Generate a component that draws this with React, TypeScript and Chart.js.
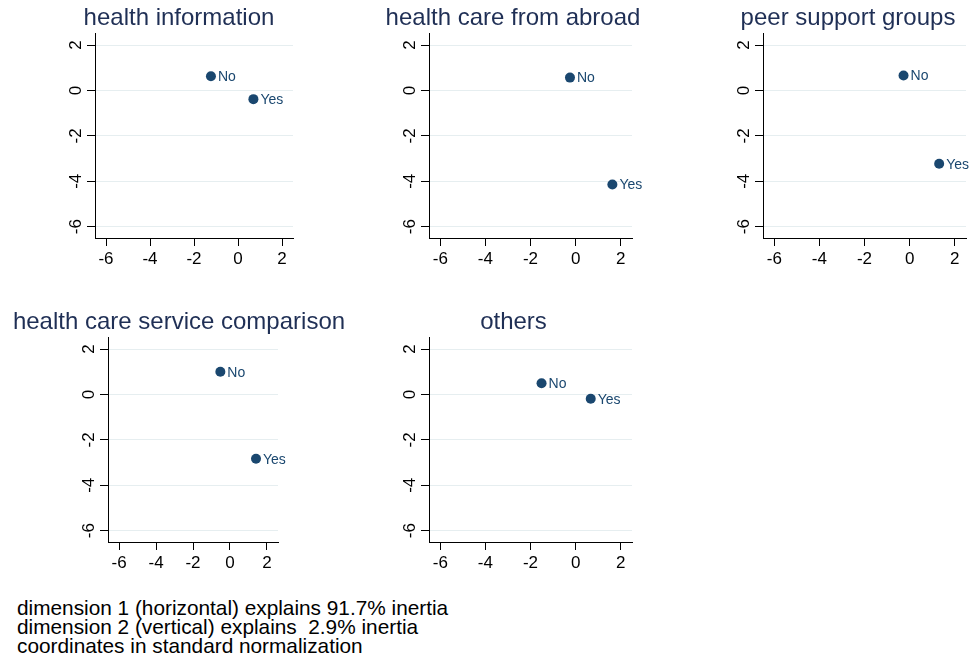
import React, { useEffect, useRef } from "react";
import { Chart, registerables } from "chart.js";

Chart.register(...registerables);

// ---- data ----
const PANEL_TITLES = [
  "health information",
  "health care from abroad",
  "peer support groups",
  "health care service comparison",
  "others",
];
const CATEGORY_LABELS = ["No", "Yes"];
const NO_X = [-1.23, -0.25, -0.27, -0.52, -1.51];
const NO_Y = [0.63, 0.57, 0.66, 1.0, 0.5];
const YES_X = [0.7, 1.63, 1.31, 1.41, 0.67];
const YES_Y = [-0.38, -4.14, -3.23, -2.83, -0.19];
const X_TICKS = [-6, -4, -2, 0, 2];
const Y_TICKS = [-6, -4, -2, 0, 2];
const X_MIN = [-6.5, -6.5, -6.5, -6.6, -6.5];
const X_MAX = [2.5, 2.5, 2.5, 2.6, 2.5];
const Y_MIN = -6.5;
const Y_MAX = 2.5;
const NOTES = [
  "dimension 1 (horizontal) explains 91.7% inertia",
  "dimension 2 (vertical) explains  2.9% inertia",
  "coordinates in standard normalization",
];

// ---- layout / style ----
// canvas spans [left, left+width], centred on the panel title;
// yW = space left of plot area, rW = space right of plot area
const PANEL_BOXES = [
  { left: 60, top: 0, width: 238, height: 270, yW: 35, rW: 1 },
  { left: 376, top: 0, width: 274, height: 270, yW: 53, rW: 18 },
  { left: 725, top: 0, width: 246, height: 270, yW: 38, rW: 5 },
  { left: 0, top: 304, width: 358, height: 270, yW: 108, rW: 80 },
  { left: 380, top: 304, width: 267, height: 270, yW: 49, rW: 15 },
];
const FONT = '"Liberation Sans", Arial, Helvetica, sans-serif';
const MARKER_COLOR = "#1a476f";
const TITLE_COLOR = "#1f2f55";
const GRID_COLOR = "#e6eef0";
const AXIS_COLOR = "#000000";

const pointLabelPlugin = {
  id: "pointLabels",
  afterDatasetsDraw(chart: any) {
    const ctx = chart.ctx;
    const meta = chart.getDatasetMeta(0);
    ctx.save();
    ctx.font = `14px ${FONT}`;
    ctx.fillStyle = MARKER_COLOR;
    ctx.textBaseline = "middle";
    ctx.textAlign = "left";
    meta.data.forEach((el: any, i: number) => {
      ctx.fillText(CATEGORY_LABELS[i], el.x + 7, el.y + 1);
    });
    ctx.restore();
  },
};

function Panel({ idx }: { idx: number }) {
  const ref = useRef<HTMLCanvasElement | null>(null);
  const box = PANEL_BOXES[idx];
  useEffect(() => {
    if (!ref.current) return;
    const chart = new Chart(ref.current, {
      type: "scatter",
      data: {
        datasets: [
          {
            data: [
              { x: NO_X[idx], y: NO_Y[idx] },
              { x: YES_X[idx], y: YES_Y[idx] },
            ],
            backgroundColor: MARKER_COLOR,
            borderColor: MARKER_COLOR,
            borderWidth: 0,
            pointRadius: 5,
            pointHoverRadius: 5,
          },
        ],
      },
      options: {
        animation: false,
        responsive: false,
        devicePixelRatio: 1,
        layout: { padding: 0 },
        plugins: {
          legend: { display: false },
          tooltip: { enabled: false },
          title: {
            display: true,
            text: PANEL_TITLES[idx],
            color: TITLE_COLOR,
            font: { size: 24, family: FONT, weight: "normal" },
            padding: { top: 4, bottom: 1 },
          },
        },
        scales: {
          x: {
            type: "linear",
            min: X_MIN[idx],
            max: X_MAX[idx],
            afterBuildTicks: (s: any) => {
              s.ticks = X_TICKS.map((v) => ({ value: v }));
            },
            afterFit: (s: any) => {
              s.height = 32;
            },
            grid: {
              drawOnChartArea: false,
              drawTicks: true,
              tickLength: 8,
              tickColor: AXIS_COLOR,
              tickWidth: 1,
            },
            border: { display: true, color: AXIS_COLOR, width: 1 },
            ticks: {
              font: { size: 17, family: FONT },
              color: "#000",
              padding: 3,
              minRotation: 0,
              maxRotation: 0,
              autoSkip: false,
              callback: (v: any) => String(v),
            },
          },
          y: {
            type: "linear",
            min: Y_MIN,
            max: Y_MAX,
            afterBuildTicks: (s: any) => {
              s.ticks = Y_TICKS.map((v) => ({ value: v }));
            },
            afterFit: (s: any) => {
              s.width = box.yW;
            },
            grid: {
              color: GRID_COLOR,
              lineWidth: 1,
              drawTicks: true,
              tickLength: 8,
              tickColor: AXIS_COLOR,
              tickWidth: 1,
            },
            border: { display: true, color: AXIS_COLOR, width: 1 },
            ticks: {
              font: { size: 17, family: FONT },
              color: "#000",
              padding: 3,
              minRotation: 90,
              maxRotation: 90,
              crossAlign: "center",
              autoSkip: false,
              callback: (v: any) => String(v),
            },
          },
          // empty spacer on the right so labels beyond the plot area are not cut
          spacer: {
            type: "linear",
            position: "right",
            display: true,
            grid: { display: false, drawTicks: false },
            border: { display: false },
            ticks: { display: false },
            afterFit: (s: any) => {
              s.width = box.rW;
            },
          },
        },
      },
      plugins: [pointLabelPlugin],
    } as any);
    return () => chart.destroy();
  }, [idx]);
  return (
    <canvas
      ref={ref}
      width={box.width}
      height={box.height}
      style={{
        position: "absolute",
        left: box.left,
        top: box.top,
        width: box.width,
        height: box.height,
      }}
    />
  );
}

export default function App() {
  return (
    <div
      style={{
        position: "absolute",
        left: 0,
        top: 0,
        width: 971,
        height: 662,
        background: "#fff",
        overflow: "hidden",
      }}
    >
      {PANEL_TITLES.map((_, i) => (
        <Panel key={i} idx={i} />
      ))}
      <div
        style={{
          position: "absolute",
          left: 17,
          top: 598,
          fontFamily: FONT,
          fontSize: 20.8,
          lineHeight: "19px",
          color: "#000",
          whiteSpace: "pre",
        }}
      >
        {NOTES.map((t, i) => (
          <div key={i}>{t}</div>
        ))}
      </div>
    </div>
  );
}
